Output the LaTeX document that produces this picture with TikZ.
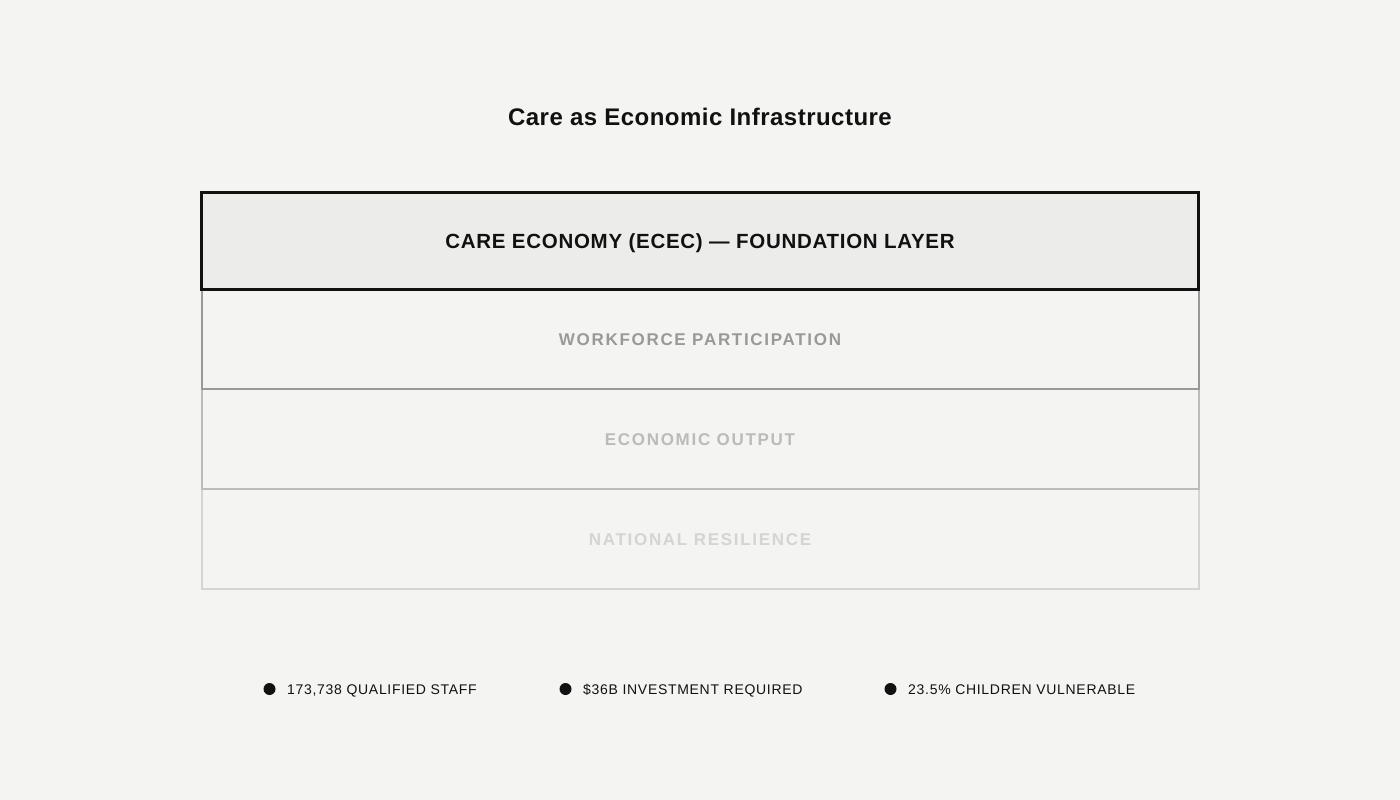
\documentclass[tikz,border=0pt]{standalone}
\usepackage{fontspec}
\setmainfont{Liberation Sans}
\definecolor{bg}{HTML}{F4F4F2}
\definecolor{topfill}{HTML}{ECECEA}
\definecolor{ink}{HTML}{111111}
\definecolor{lvtwo}{HTML}{999999}
\definecolor{lvthree}{HTML}{BBBBBB}
\definecolor{lvfour}{HTML}{D4D4D4}
\begin{document}
\begin{tikzpicture}[x=1pt,y=-1pt,
  layer/.style={draw, line width=2pt, outer sep=0pt, minimum width=997pt, minimum height=100pt, inner sep=0pt, anchor=north west, text height=12.2pt, text depth=0pt, font=\fontsize{17}{20}\selectfont\bfseries\addfontfeatures{LetterSpace=10}},
  stat/.style={anchor=west, inner sep=0pt, text height=10pt, text depth=0pt, font=\fontsize{14}{16}\selectfont\addfontfeatures{LetterSpace=5}, text=ink},
  dot/.style={circle, fill=ink, minimum size=12pt, inner sep=0pt}]
\fill[bg] (0,0) rectangle (1400,800);
\useasboundingbox (0,0) rectangle (1400,800);
\node[font=\fontsize{24}{28}\selectfont\bfseries\addfontfeatures{LetterSpace=2}, text=ink] (title) at (700,117) {Care as Economic Infrastructure};
\node[layer, draw=lvfour, text=lvfour] (l4) at (201.5,489.3) {NATIONAL RESILIENCE};
\node[layer, draw=lvthree, text=lvthree] (l3) at (201.5,389.3) {ECONOMIC OUTPUT};
\node[layer, draw=lvtwo, text=lvtwo] (l2) at (201.5,289.3) {WORKFORCE PARTICIPATION};
\node[layer, draw=ink, line width=3pt, fill=topfill, text=ink, minimum height=96.5pt, text height=14.7pt, font=\fontsize{20.5}{24}\selectfont\bfseries\addfontfeatures{LetterSpace=3.5}] (l1) at (201.5,192.5) {CARE ECONOMY (ECEC) — FOUNDATION LAYER};
\node[dot] (d1) at (269.5,689) {};
\node[stat] (s1) at (287,689.5) {173,738 QUALIFIED STAFF};
\node[dot] (d2) at (565.5,689) {};
\node[stat] (s2) at (583,689.5) {\$36B INVESTMENT REQUIRED};
\node[dot] (d3) at (890.5,689) {};
\node[stat] (s3) at (908,689.5) {23.5\% CHILDREN VULNERABLE};
\end{tikzpicture}
\end{document}
